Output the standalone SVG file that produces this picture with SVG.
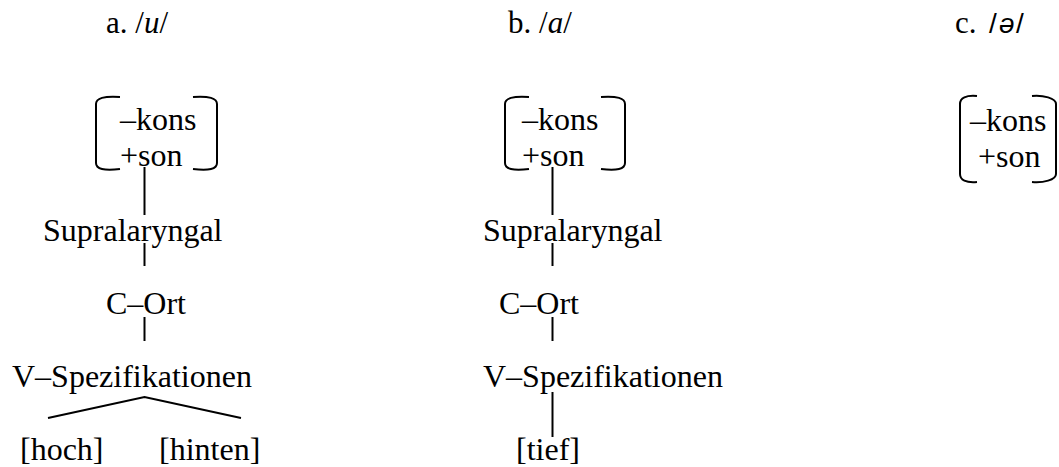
<svg xmlns="http://www.w3.org/2000/svg" width="1059" height="467" viewBox="0 0 1059 467" font-family="Liberation Serif, Times New Roman, serif" font-size="32">
<style>
.h{font-size:31px}
.i{font-style:italic}
.s{font-family:"Liberation Sans",Arial,sans-serif;font-size:28px}
.br,.ln{fill:none;stroke:#000;stroke-width:2}
</style>
<g id="header-a"><text class="h" x="106" y="33">a. /<tspan class="i">u</tspan>/</text></g>
<g id="header-b"><text class="h" x="508" y="33">b. /<tspan class="i">a</tspan>/</text></g>
<g id="header-c"><text class="h" x="955" y="33">c. <tspan class="s" x="989">/</tspan><tspan class="s i" x="999">ə</tspan><tspan class="s" x="1016">/</tspan></text></g>

<g id="a-matrix">
<path class="br" d="M120,97 C104,96 96,98 96,104 L96,163 C96,169 104,171 120,169"/>
<path class="br" d="M193,97 C209,96 217,98 217,104 L217,163 C217,169 209,171 193,169"/>
<text x="120" y="130">–kons</text>
<text x="120" y="166">+son</text>
</g>
<g id="a-supra"><text x="43" y="241">Supralaryngal</text></g>
<g id="a-cort"><text x="106" y="314">C–Ort</text></g>
<g id="a-vspez"><text x="12" y="387">V–Spezifikationen</text></g>
<g id="a-hoch"><text x="20" y="460">[hoch]</text></g>
<g id="a-hinten"><text x="159" y="460">[hinten]</text></g>

<g id="b-matrix">
<path class="br" d="M529,97 C513,96 505,98 505,104 L505,163 C505,169 513,171 529,169"/>
<path class="br" d="M601,97 C617,96 625,98 625,104 L625,163 C625,169 617,171 601,169"/>
<text x="522" y="130">–kons</text>
<text x="522" y="166">+son</text>
</g>
<g id="b-supra"><text x="483" y="241">Supralaryngal</text></g>
<g id="b-cort"><text x="499" y="314">C–Ort</text></g>
<g id="b-vspez"><text x="483" y="387">V–Spezifikationen</text></g>
<g id="b-tief"><text x="516" y="460">[tief]</text></g>

<g id="c-matrix">
<path class="br" d="M977,96 C966,95 960,98 960,104 L960,174 C960,180 966,183 977,182"/>
<path class="br" d="M1032,96 C1043,95 1056,98 1056,104 L1056,174 C1056,180 1043,183 1032,182"/>
<text x="970" y="131">–kons</text>
<text x="978" y="167">+son</text>
</g>

<g id="connectors">
<line class="ln" x1="144.5" y1="167" x2="144.5" y2="215"/>
<line class="ln" x1="144.5" y1="243" x2="144.5" y2="266"/>
<line class="ln" x1="144.5" y1="317" x2="144.5" y2="341"/>
<polyline class="ln" points="48,418 144.5,397 241,418"/>
<line class="ln" x1="552.5" y1="167" x2="552.5" y2="215"/>
<line class="ln" x1="552.5" y1="243" x2="552.5" y2="266"/>
<line class="ln" x1="552.5" y1="317" x2="552.5" y2="341"/>
<line class="ln" x1="552.5" y1="392" x2="552.5" y2="437"/>
</g>
</svg>
